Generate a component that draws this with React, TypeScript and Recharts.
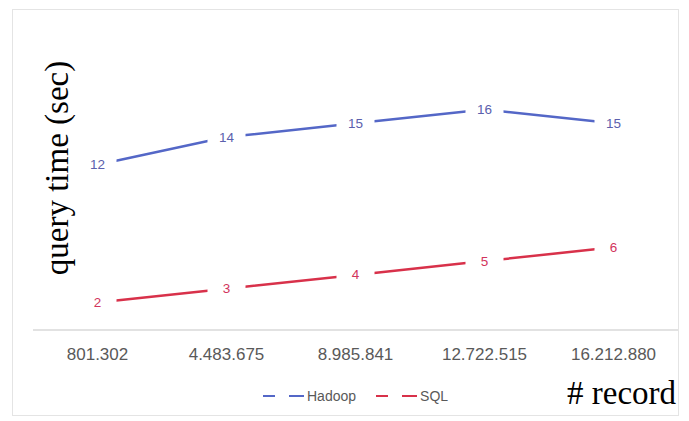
import React from "react";
import { LineChart, Line, XAxis, YAxis, LabelList } from "recharts";

const records = ["801.302", "4.483.675", "8.985.841", "12.722.515", "16.212.880"];
const hadoop = [12, 14, 15, 16, 15];
const sql = [2, 3, 4, 5, 6];

const BLUE = "#5467c7";
const BLUE_TEXT = "#5b60ad";
const RED = "#d8314a";
const RED_TEXT = "#d2345c";

const data = records.map((r, i) => ({ record: r, hadoop: hadoop[i], sql: sql[i] }));

const makeLabel = (color: string) => (props: any) => {
  const { x, y, value } = props;
  return (
    <g>
      <rect x={x - 19} y={y - 10} width={38} height={20} fill="#fff" />
      <text
        x={x}
        y={y}
        dy={4.5}
        textAnchor="middle"
        fontSize={13.5}
        fontFamily="Liberation Sans, Arial, sans-serif"
        fill={color}
      >
        {value}
      </text>
    </g>
  );
};

function LegendItem({ color, name }: { color: string; name: string }) {
  return (
    <span style={{ display: "inline-flex", alignItems: "center", marginRight: 20 }}>
      <svg width={42} height={10}>
        <line x1={0} y1={5} x2={12} y2={5} stroke={color} strokeWidth={2} />
        <line x1={26} y1={5} x2={41} y2={5} stroke={color} strokeWidth={2} />
      </svg>
      <span style={{ marginLeft: 2 }}>{name}</span>
    </span>
  );
}

export default function App() {
  return (
    <div
      style={{
        position: "absolute",
        left: 0,
        top: 0,
        width: 689,
        height: 421,
        background: "#fff",
      }}
    >
      <div
        style={{
          position: "absolute",
          left: 12,
          top: 9,
          width: 665,
          height: 405,
          border: "1.5px solid #e4e4e4",
        }}
      />
      <LineChart
        width={689}
        height={421}
        data={data}
        margin={{ top: 82, right: 11, left: 33, bottom: 61 }}
      >
        <XAxis
          dataKey="record"
          height={30}
          axisLine={{ stroke: "#d9d9d9", strokeWidth: 1.5 }}
          tickLine={false}
          padding={{ left: 64.5, right: 64.5 }}
          tick={{ fontSize: 17, fill: "#595959", fontFamily: "Liberation Sans, Arial, sans-serif" }}
          dy={10}
          interval={0}
        />
        <YAxis hide domain={[0, 18]} />
        <Line
          dataKey="hadoop"
          stroke={BLUE}
          strokeWidth={2.5}
          dot={false}
          isAnimationActive={false}
        >
          <LabelList dataKey="hadoop" content={makeLabel(BLUE_TEXT)} />
        </Line>
        <Line
          dataKey="sql"
          stroke={RED}
          strokeWidth={2.5}
          dot={false}
          isAnimationActive={false}
        >
          <LabelList dataKey="sql" content={makeLabel(RED_TEXT)} />
        </Line>
      </LineChart>
      <div
        style={{
          position: "absolute",
          left: 57,
          top: 168,
          transform: "translate(-50%, -50%) rotate(-90deg)",
          whiteSpace: "nowrap",
          fontFamily: "Liberation Serif, Times New Roman, serif",
          fontSize: 33,
          lineHeight: 1,
          color: "#000",
        }}
      >
        query time (sec)
      </div>
      <div
        style={{
          position: "absolute",
          left: 567,
          top: 377,
          whiteSpace: "nowrap",
          fontFamily: "Liberation Serif, Times New Roman, serif",
          fontSize: 33,
          lineHeight: 1,
          color: "#000",
        }}
      >
        # record
      </div>
      <div
        style={{
          position: "absolute",
          left: 263,
          top: 387,
          display: "flex",
          fontFamily: "Liberation Sans, Arial, sans-serif",
          fontSize: 14,
          lineHeight: "18px",
          color: "#595959",
        }}
      >
        <LegendItem color={BLUE} name="Hadoop" />
        <LegendItem color={RED} name="SQL" />
      </div>
    </div>
  );
}
